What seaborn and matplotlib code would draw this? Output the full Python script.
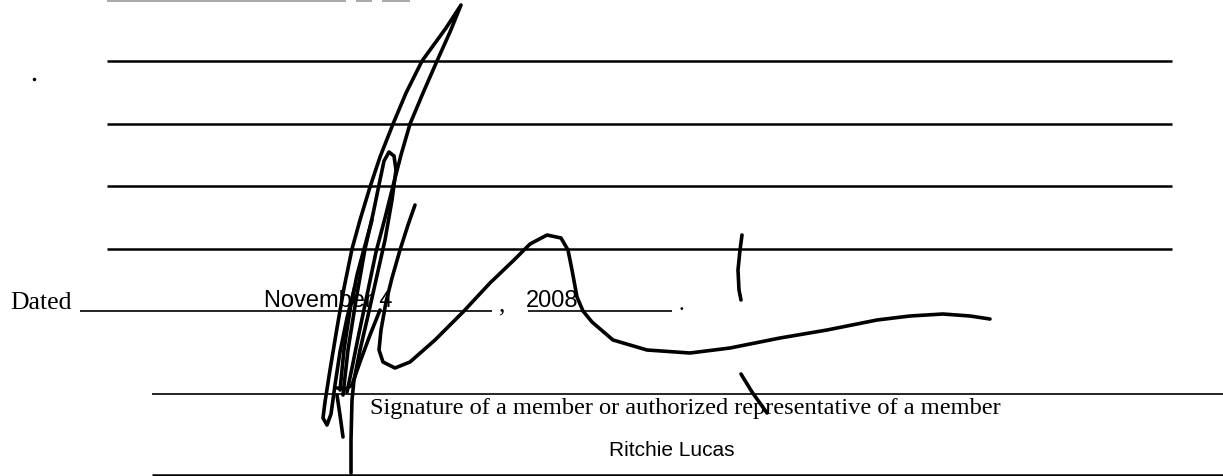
import pandas as pd
import matplotlib
matplotlib.use("Agg")
import matplotlib.pyplot as plt
import seaborn as sns

# blank form rules, in pixels of the scanned page (x to the right, y downwards)
rule_y = [61, 124, 186, 249, 311, 311, 394, 475]
rule_start = [107, 107, 107, 107, 80, 528, 152, 152]
rule_end = [1172, 1172, 1172, 1172, 492, 672, 1223, 1223]

# faint cut-off rule at the very top of the page
top_rule_start = [107, 356, 382]
top_rule_end = [346, 372, 410]

# printed / typed text
date_label = "Dated"
date_month = "November 4"
date_year = "2008"
caption = "Signature of a member or authorized representative of a member"
signer = "Ritchie Lucas"

# hand-drawn signature, one list of (x, y) per pen stroke
stroke_loop = [(347, 392), (352, 368), (358, 338), (366, 300), (376, 252), (385, 218),
               (393, 186), (401, 155), (410, 124), (423, 93), (437, 61), (450, 32),
               (461, 5), (446, 28), (422, 61), (406, 93), (393, 124), (380, 157),
               (370, 187), (360, 220), (352, 249), (344, 288), (337, 328), (330, 370),
               (325, 402), (323, 418), (327, 425), (331, 414), (335, 385), (340, 352),
               (347, 318), (355, 286)]
stroke_hump = [(343, 395), (348, 350), (356, 300), (365, 249), (373, 214), (380, 180),
               (384, 161), (389, 152), (394, 156), (396, 170), (392, 200), (385, 240),
               (376, 280), (367, 320), (360, 350), (354, 380), (352, 400), (351, 440),
               (351, 473)]
stroke_wave = [(415, 205), (408, 225), (400, 250), (392, 278), (386, 302), (381, 330),
               (379, 350), (383, 362), (395, 368), (410, 362), (435, 340), (463, 312),
               (490, 283), (514, 260), (530, 244), (547, 235), (561, 238), (568, 250),
               (572, 270), (577, 297), (583, 311), (592, 322), (613, 340), (647, 350),
               (690, 353), (730, 348), (780, 338), (827, 330), (877, 320), (910, 316),
               (943, 314), (970, 316), (990, 319)]
stroke_cross = [(380, 310), (370, 335), (360, 362), (352, 385), (346, 389), (337, 388)]
stroke_tick = [(337, 395), (340, 415), (343, 437)]
stroke_inner = [(340, 390), (344, 350), (350, 310), (357, 275), (364, 249), (372, 220)]
stroke_bar = [(742, 235), (740, 250), (738, 270), (739, 290), (741, 300)]
stroke_slash = [(741, 374), (752, 392), (767, 413)]
stray_dot = [(34, 79)]

strokes = {
    "loop": stroke_loop, "hump": stroke_hump, "wave": stroke_wave,
    "cross": stroke_cross, "tick": stroke_tick, "inner": stroke_inner,
    "bar": stroke_bar, "slash": stroke_slash,
}
rows = []
for name, pts in strokes.items():
    for i, (x, y) in enumerate(pts):
        rows.append({"stroke": name, "order": i, "x": x, "y": y})
df = pd.DataFrame(rows)

sns.set_theme(style="white")
plt.rcParams["font.family"] = ["Liberation Sans", "DejaVu Sans"]
plt.rcParams["text.color"] = "black"

fig = plt.figure(figsize=(12.23, 4.76), dpi=100)
ax = fig.add_axes([0, 0, 1, 1])

# form rules
for y, x0, x1 in zip(rule_y, rule_start, rule_end):
    lw = 1.2 if y in (311, 394) else 1.8
    ax.hlines(y, x0, x1, color="black", lw=lw)
for x0, x1 in zip(top_rule_start, top_rule_end):
    ax.hlines(1, x0, x1, color="#9a9a9a", lw=1.2)

# signature
sns.lineplot(data=df, x="x", y="y", units="stroke", estimator=None, sort=False,
             color="black", lw=2.6, ax=ax, legend=False,
             solid_joinstyle="round", solid_capstyle="round")
ax.plot([p[0] for p in stray_dot], [p[1] for p in stray_dot], "o",
        color="black", ms=1.5)

serif = "Liberation Serif"
ax.text(10, 309, date_label, family=serif, fontsize=18.5, va="baseline", ha="left",
        color="black")
ax.text(264, 307, date_month, fontsize=17, va="baseline", ha="left", color="black")
ax.text(499, 311, ",", family=serif, fontsize=18, va="baseline", ha="left", color="black")
ax.text(526, 307, date_year, fontsize=17, va="baseline", ha="left", color="black")
ax.text(678, 310, ".", family=serif, fontsize=16, va="baseline", ha="left", color="black")
ax.text(370, 414, caption, family=serif, fontsize=17.6, va="baseline", ha="left",
        color="black")
ax.text(609, 456, signer, fontsize=15, va="baseline", ha="left", color="black")

ax.set_xlim(0, 1223)
ax.set_ylim(476, 0)
ax.set_axis_off()

fig.savefig("out.png", dpi=100, facecolor="white")
